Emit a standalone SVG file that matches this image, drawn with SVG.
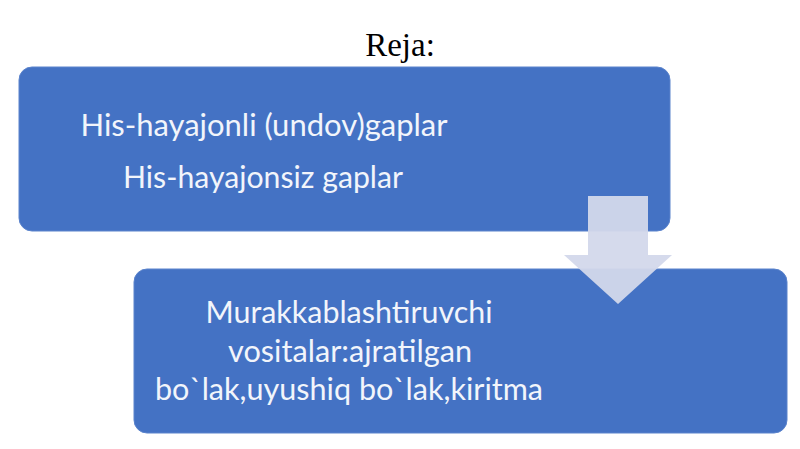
<svg xmlns="http://www.w3.org/2000/svg" width="800" height="449" viewBox="0 0 800 449">
<style>
.box{fill:#4472C4;stroke:#5A83CC;stroke-width:1}
.t{font-family:Lato,"Noto Sans",sans-serif;fill:#F2F5FB;text-anchor:middle;font-size:31px}
.title{font-family:"Liberation Serif",serif;font-size:33px;fill:#000;text-anchor:middle}
.arrow{fill:#D3D8EB;opacity:0.95}
</style>
<rect width="800" height="449" fill="#fff"/>
<text class="title" x="400" y="56">Reja:</text>
<g id="node1">
<rect class="box" x="19" y="67" width="651" height="164" rx="13"/>
<text class="t" x="264" y="136" textLength="367" lengthAdjust="spacingAndGlyphs">His-hayajonli (undov)gaplar</text>
<text class="t" x="263" y="188" textLength="280" lengthAdjust="spacingAndGlyphs">His-hayajonsiz gaplar</text>
</g>
<g id="node2">
<rect class="box" x="134" y="269" width="653" height="164" rx="13"/>
<text class="t" x="349" y="323" textLength="287" lengthAdjust="spacingAndGlyphs">Murakkablashtiruvchi</text>
<text class="t" x="350" y="362" textLength="244" lengthAdjust="spacingAndGlyphs">vositalar:ajratilgan</text>
<text class="t" x="349" y="400" textLength="388" lengthAdjust="spacingAndGlyphs">bo`lak,uyushiq bo`lak,kiritma</text>
</g>
<g id="connectors">
<polygon class="arrow" points="588,196 648,196 648,255 672,255 618,304 564,255 588,255"/>
</g>
</svg>
